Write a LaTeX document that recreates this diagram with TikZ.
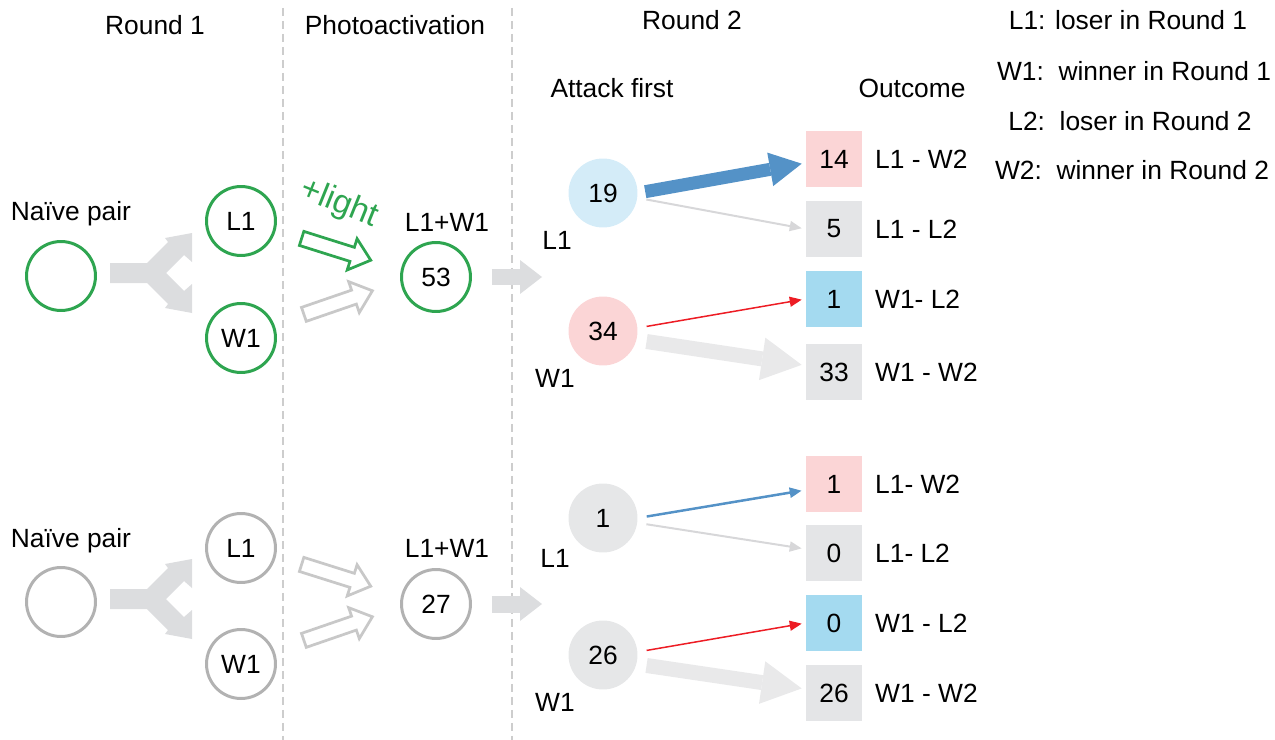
\documentclass[tikz,border=0pt]{standalone}
\usepackage{fontspec}
\setmainfont{Liberation Sans}
\usetikzlibrary{arrows.meta,shapes.arrows,positioning}
\definecolor{roundgreen}{RGB}{46,165,80}
\definecolor{ringgray}{RGB}{178,178,178}
\definecolor{hollowgray}{RGB}{200,200,200}
\definecolor{forkgray}{RGB}{220,221,223}
\definecolor{paleblock}{RGB}{233,233,234}
\definecolor{dashgray}{RGB}{205,205,205}
\definecolor{lightblue}{RGB}{212,236,248}
\definecolor{lightpink}{RGB}{251,213,214}
\definecolor{boxgray}{RGB}{228,229,231}
\definecolor{boxblue}{RGB}{164,218,240}
\definecolor{discgray}{RGB}{230,231,232}
\definecolor{arrowblue}{RGB}{84,146,199}
\definecolor{arrowred}{RGB}{237,28,36}
\definecolor{thingray}{RGB}{215,215,217}
\tikzset{
  txt/.style={font=\fontsize{15}{18}\selectfont, inner sep=0pt},
  ring/.style={circle, draw=#1, line width=0.06cm, minimum size=1.38cm, txt},
  disc/.style={circle, fill=#1, minimum size=1.38cm, txt},
  outbox/.style={rectangle, fill=#1, minimum size=1.12cm, txt},
  outlab/.style={txt, right=0.25cm of #1},
  hollowarr/.style={single arrow, draw=#1, line width=0.055cm, minimum height=1.45cm,
    inner sep=0.12cm, single arrow head extend=0.18cm, single arrow tip angle=80,
    single arrow head indent=0cm},
  bigblock/.style={draw=#1, line width=0.3cm,
    -{Triangle[length=0.8cm, width=0.86cm, line width=0pt]}},
  bluearr/.style={draw=arrowblue, line width=0.26cm,
    -{Triangle[length=0.64cm, width=0.68cm, line width=0pt]}},
  stemarr/.style={draw=forkgray, line width=0.34cm,
    -{Triangle[length=0.44cm, width=0.68cm, line width=0pt]}},
  thinarr/.style={draw=#1, line width=0.04cm,
    -{Triangle[length=0.24cm, width=0.2cm]}},
  dashline/.style={draw=dashgray, line width=0.03cm, dash pattern=on 0.16cm off 0.1cm}
}
\begin{document}
\begin{tikzpicture}[x=0.02cm, y=-0.02cm]
\useasboundingbox (0,0) rectangle (1275,740);
% column separators
\draw[dashline] (283,8) -- (283,740);
\draw[dashline] (512,8) -- (512,740);
% headings
\node[txt] (hround1) at (155,25) {Round 1};
\node[txt] (hphoto) at (395,25) {Photoactivation};
\node[txt] (hround2) at (692,20) {Round 2};
\node[txt] (hattack) at (612,88) {Attack first};
\node[txt] (houtcome) at (912,88) {Outcome};
% legend
\node[txt] (leg1) at (1128,20) {L1: loser in Round 1};
\node[txt] (leg2) at (1134,71) {W1:\ \ winner in Round 1};
\node[txt] (leg3) at (1130,121) {L2:\ \ loser in Round 2};
\node[txt] (leg4) at (1132,170) {W2:\ \ winner in Round 2};
% split arrows of round 1
\foreach \dy in {0,326}
  \fill[forkgray, shift={(0,\dy)}] (110,263) -- (147,263) -- (168,242) -- (165,238)
    -- (192,233) -- (192,262) -- (184,255) -- (166,273) -- (184,291) -- (192,284)
    -- (192,313) -- (165,308) -- (168,304) -- (147,283) -- (110,283) -- cycle;

% upper panel
\node[txt] (naiveA) at (71,214) {Naïve pair};
\node[ring=roundgreen] (pairA) at (61,276) {};
\node[ring=roundgreen] (loseA) at (241,221) {L1};
\node[ring=roundgreen] (winA) at (241,338) {W1};
\node[hollowarr=roundgreen, rotate=-17.5] (lightA) at (332,248) {};
\node[hollowarr=hollowgray, rotate=19] (darkA) at (334,304) {};
\node[txt, text=roundgreen, font=\fontsize{19}{22}\selectfont, rotate=-22] (plus) at (339,204) {+light};
\node[txt] (mixlabA) at (447,222) {L1+W1};
\node[ring=roundgreen] (mixA) at (436,277) {53};
\coordinate (enterA) at (542,277);
\draw[stemarr, shorten <=0.4cm] (mixA.east) -- (enterA);
\node[disc=lightblue] (firstLA) at (603,193) {19};
\node[txt] (labLA) at (557,240) {L1};
\node[disc=lightpink] (firstWA) at (603,331) {34};
\node[txt] (labWA) at (555,378) {W1};
\node[outbox=lightpink] (outA1) at (834,159) {14};
\node[outbox=boxgray] (outA2) at (834,229) {5};
\node[outbox=boxblue] (outA3) at (834,299) {1};
\node[outbox=boxgray] (outA4) at (834,372) {33};
\node[outlab=outA1] (resA1) {L1 - W2};
\node[outlab=outA2] (resA2) {L1 - L2};
\node[outlab=outA3] (resA3) {W1- L2};
\node[outlab=outA4] (resA4) {W1 - W2};
\draw[bluearr, shorten <=0.15cm, shorten >=0.08cm] (firstLA.east) -- (outA1.188);
\draw[thinarr=thingray, shorten <=0.18cm, shorten >=0.08cm] (firstLA.-8) -- (outA2.west);
\draw[thinarr=arrowred, line width=0.03cm, shorten <=0.18cm, shorten >=0.08cm] (firstWA.5) -- (outA3.west);
\draw[bigblock=paleblock, shorten <=0.2cm, shorten >=0.08cm] (firstWA.-15) -- (outA4.167);

% lower panel
\node[txt] (naiveB) at (71,541) {Naïve pair};
\node[ring=ringgray] (pairB) at (61,602) {};
\node[ring=ringgray] (loseB) at (241,548) {L1};
\node[ring=ringgray] (winB) at (241,664) {W1};
\node[hollowarr=hollowgray, rotate=-17.5] (lightB) at (332,574) {};
\node[hollowarr=hollowgray, rotate=19] (darkB) at (334,630) {};
\node[txt] (mixlabB) at (447,548) {L1+W1};
\node[ring=ringgray] (mixB) at (436,604) {27};
\coordinate (enterB) at (542,604);
\draw[stemarr, shorten <=0.4cm] (mixB.east) -- (enterB);
\node[disc=discgray] (firstLB) at (603,518) {1};
\node[txt] (labLB) at (555,558) {L1};
\node[disc=discgray] (firstWB) at (603,655) {26};
\node[txt] (labWB) at (555,702) {W1};
\node[outbox=lightpink] (outB1) at (834,484) {1};
\node[outbox=boxgray] (outB2) at (834,553) {0};
\node[outbox=boxblue] (outB3) at (834,623) {0};
\node[outbox=boxgray] (outB4) at (834,693) {26};
\node[outlab=outB1] (resB1) {L1- W2};
\node[outlab=outB2] (resB2) {L1- L2};
\node[outlab=outB3] (resB3) {W1 - L2};
\node[outlab=outB4] (resB4) {W1 - W2};
\draw[thinarr=arrowblue, line width=0.05cm, shorten <=0.18cm, shorten >=0.08cm] (firstLB.east) -- (outB1.192);
\draw[thinarr=thingray, shorten <=0.18cm, shorten >=0.08cm] (firstLB.-8) -- (outB2.172);
\draw[thinarr=arrowred, line width=0.03cm, shorten <=0.18cm, shorten >=0.08cm] (firstWB.5) -- (outB3.west);
\draw[bigblock=paleblock, shorten <=0.2cm, shorten >=0.08cm] (firstWB.-15) -- (outB4.172);
\end{tikzpicture}
\end{document}
